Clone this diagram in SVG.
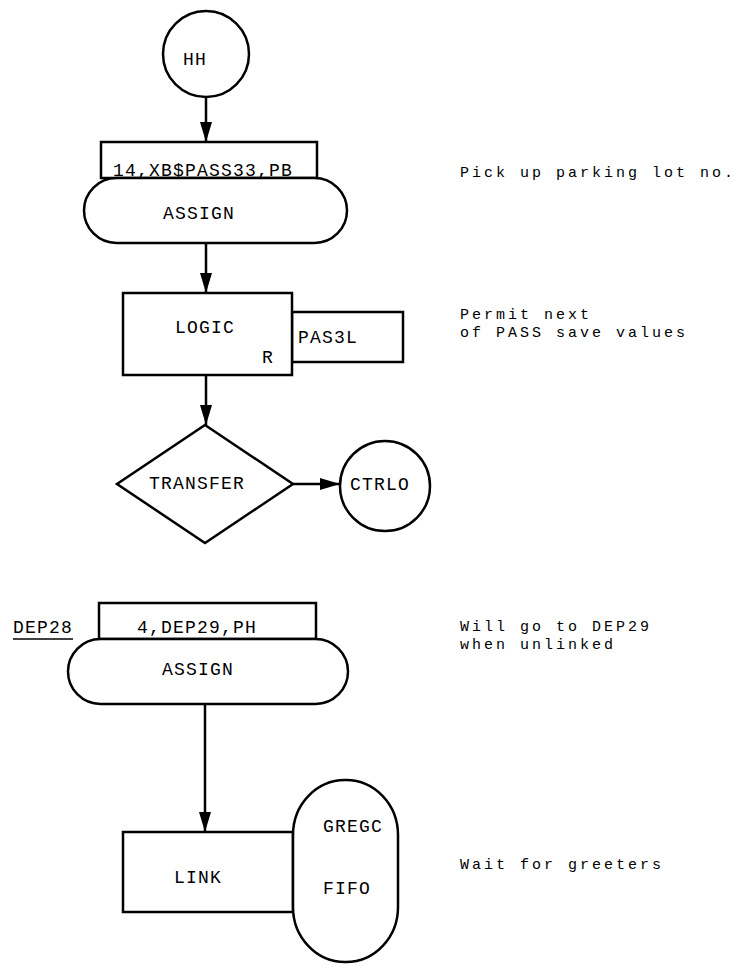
<svg xmlns="http://www.w3.org/2000/svg" width="752" height="973" viewBox="0 0 752 973">
<style>
.s{fill:#fff;stroke:#000;stroke-width:2.5}
.c{fill:none;stroke:#000;stroke-width:2.5}
text{font-family:"Liberation Mono","Courier New",monospace;font-size:18px;letter-spacing:1.2px;fill:#000}
.m{font-size:15px;letter-spacing:3px}
</style>
<defs>
<marker id="ah" viewBox="0 0 20 12" refX="20" refY="6" markerWidth="20" markerHeight="12" markerUnits="userSpaceOnUse" orient="auto">
<path d="M0,0 L20,6 L0,12 Z" fill="#000"/>
</marker>
</defs>
<rect width="752" height="973" fill="#fff"/>
<g id="connectors">
<line class="c" x1="206" y1="97" x2="206" y2="142" marker-end="url(#ah)"/>
<line class="c" x1="206" y1="243" x2="206" y2="293" marker-end="url(#ah)"/>
<line class="c" x1="206" y1="375" x2="206" y2="425" marker-end="url(#ah)"/>
<line class="c" x1="293" y1="484" x2="340" y2="484" marker-end="url(#ah)"/>
<line class="c" x1="205" y1="704" x2="205" y2="832" marker-end="url(#ah)"/>
</g>
<g id="node-hh">
<circle class="s" cx="206" cy="54" r="43"/>
<text x="183" y="65">HH</text>
</g>
<g id="node-assign1">
<rect class="s" x="101" y="142" width="216" height="36"/>
<rect class="s" x="84" y="178" width="263" height="65" rx="32.5" ry="32.5"/>
<text x="113" y="176">14,XB$PASS33,PB</text>
<text x="163" y="219">ASSIGN</text>
</g>
<g id="node-logic">
<rect class="s" x="292" y="312" width="111" height="50"/>
<rect class="s" x="123" y="293" width="169" height="82"/>
<text x="175" y="333">LOGIC</text>
<text x="262" y="363">R</text>
<text x="298" y="343">PAS3L</text>
</g>
<g id="node-transfer">
<polygon class="s" points="205,425 293,484 205,543 117,484"/>
<text x="149" y="489">TRANSFER</text>
</g>
<g id="node-ctrlo">
<circle class="s" cx="385" cy="486" r="45"/>
<text x="350" y="490">CTRLO</text>
</g>
<g id="node-assign2">
<text x="13" y="633">DEP28</text>
<line x1="13" y1="639" x2="73" y2="639" stroke="#000" stroke-width="1.5"/>
<rect class="s" x="99" y="603" width="217" height="36"/>
<rect class="s" x="68" y="639" width="280" height="65" rx="32.5" ry="32.5"/>
<text x="137" y="633">4,DEP29,PH</text>
<text x="162" y="675">ASSIGN</text>
</g>
<g id="node-link">
<rect class="s" x="123" y="832" width="170" height="80"/>
<rect class="s" x="293" y="780" width="105" height="182" rx="52" ry="55"/>
<text x="174" y="883">LINK</text>
<text x="323" y="832">GREGC</text>
<text x="323" y="894">FIFO</text>
</g>
<g id="comments">
<text class="m" x="460" y="177">Pick up parking lot no.</text>
<text class="m" x="460" y="319">Permit next</text>
<text class="m" x="460" y="337">of PASS save values</text>
<text class="m" x="460" y="631">Will go to DEP29</text>
<text class="m" x="460" y="649">when unlinked</text>
<text class="m" x="460" y="869">Wait for greeters</text>
</g>
</svg>
